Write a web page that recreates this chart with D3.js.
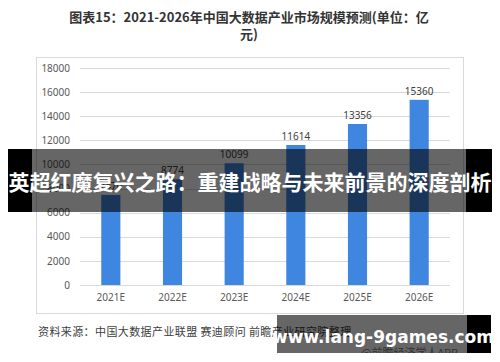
<!DOCTYPE html>
<html lang="zh">
<head>
<meta charset="UTF-8">
<title>中国大数据产业市场规模预测</title>
<script src="https://cdn.jsdelivr.net/npm/d3@7"></script>
<style>
  body { margin: 0; background: #fff; }
  svg { display: block; font-family: "Noto Sans CJK SC", "Microsoft YaHei", sans-serif; }
</style>
</head>
<body>
<div id="output"></div>
<script>

var years = ["2021E", "2022E", "2023E", "2024E", "2025E", "2026E"];
var values = [7470, 8774, 10099, 11614, 13356, 15360];
var yTicks = [0, 2000, 4000, 6000, 8000, 10000, 12000, 14000, 16000, 18000];

var w = 500, h = 362;

var svg = d3.select("#output").append("svg")
    .attr("width", w)
    .attr("height", h);

// title
svg.append("text")
    .attr("x", 249).attr("y", 22)
    .attr("text-anchor", "middle")
    .attr("font-size", 13).attr("font-weight", "bold")
    .attr("fill", "#333")
    .text("图表15：2021-2026年中国大数据产业市场规模预测(单位：亿");
svg.append("text")
    .attr("x", 249).attr("y", 39)
    .attr("text-anchor", "middle")
    .attr("font-size", 13).attr("font-weight", "bold")
    .attr("fill", "#333")
    .text("元)");

// chart frame
svg.append("rect")
    .attr("x", 36.5).attr("y", 57.5)
    .attr("width", 427).attr("height", 256)
    .attr("fill", "#fff")
    .attr("stroke", "#d9d9d9");

var x = d3.scaleBand()
    .domain(years)
    .range([80, 450])
    .paddingInner(0.69)
    .paddingOuter(0.345);

var y = d3.scaleLinear()
    .domain([0, 18000])
    .range([285, 68]);

// gridlines
svg.append("g")
    .selectAll("line").data(yTicks).enter()
    .append("line")
    .attr("x1", 80).attr("x2", 450)
    .attr("y1", function(d) { return Math.round(y(d)) + 0.5; })
    .attr("y2", function(d) { return Math.round(y(d)) + 0.5; })
    .attr("stroke", "#d9d9d9");

// y axis labels
var yAxis = d3.axisLeft(y).tickValues(yTicks).tickFormat(d3.format("d")).tickSize(0).tickPadding(0);
var gy = svg.append("g")
    .attr("transform", "translate(70,0)")
    .call(yAxis);
gy.select(".domain").remove();
gy.selectAll("text").attr("font-size", 10).attr("fill", "#595959")
    .attr("font-family", "\"Noto Sans\", sans-serif");

// x axis labels
var xAxis = d3.axisBottom(x).tickSize(0).tickPadding(0);
var gx = svg.append("g")
    .attr("transform", "translate(0,294)")
    .call(xAxis);
gx.select(".domain").remove();
gx.selectAll("text").attr("font-size", 10).attr("fill", "#595959")
    .attr("font-family", "\"Noto Sans\", sans-serif");

// bars
svg.append("g")
    .selectAll("rect").data(values).enter()
    .append("rect")
    .attr("x", function(d, i) { return x(years[i]); })
    .attr("width", x.bandwidth())
    .attr("y", function(d) { return y(d); })
    .attr("height", function(d) { return y(0) - y(d); })
    .attr("fill", "#3f86e0");

// value labels
svg.append("g")
    .selectAll("text").data(values).enter()
    .append("text")
    .attr("x", function(d, i) { return x(years[i]) + x.bandwidth() / 2; })
    .attr("y", function(d) { return y(d) - 5; })
    .attr("text-anchor", "middle")
    .attr("font-size", 10)
    .attr("font-family", "\"Noto Sans\", sans-serif")
    .attr("fill", "#404040")
    .text(function(d) { return d; });

// source
svg.append("text")
    .attr("x", 38).attr("y", 336)
    .attr("font-size", 11)
    .attr("fill", "#404040")
    .attr("letter-spacing", 0.4)
    .text("资料来源：中国大数据产业联盟 赛迪顾问 前瞻产业研究院整理");

svg.append("text")
    .attr("x", 361).attr("y", 357)
    .attr("font-size", 11)
    .attr("fill", "#808080")
    .text("@前瞻经济学人APP");

// banner overlay
svg.append("rect").attr("x", 8).attr("y", 149).attr("width", 24).attr("height", 63).attr("fill", "#000");
svg.append("rect").attr("x", 466).attr("y", 149).attr("width", 26).attr("height", 63).attr("fill", "#000");
svg.append("rect").attr("x", 32).attr("y", 149).attr("width", 434).attr("height", 63).attr("fill", "rgba(0,0,0,0.6)");
svg.append("text")
    .attr("x", 250).attr("y", 190)
    .attr("text-anchor", "middle")
    .attr("font-size", 21).attr("font-weight", "bold")
    .attr("fill", "#fff")
    .text("英超红魔复兴之路：重建战略与未来前景的深度剖析");

// bottom overlay
svg.append("rect").attr("x", 277).attr("y", 315).attr("width", 190).attr("height", 38).attr("fill", "rgba(0,0,0,0.6)");
svg.append("rect").attr("x", 467).attr("y", 315).attr("width", 24).attr("height", 38).attr("fill", "#000");
svg.append("rect").attr("x", 277).attr("y", 353).attr("width", 223).attr("height", 9).attr("fill", "#fff");
svg.append("text")
    .attr("x", 383).attr("y", 343)
    .attr("text-anchor", "middle")
    .attr("font-size", 17).attr("font-weight", "bold")
    .attr("font-family", "\"DejaVu Sans\", sans-serif")
    .attr("fill", "#fff")
    .text("www.lang-9games.com");

</script>
</body>
</html>
